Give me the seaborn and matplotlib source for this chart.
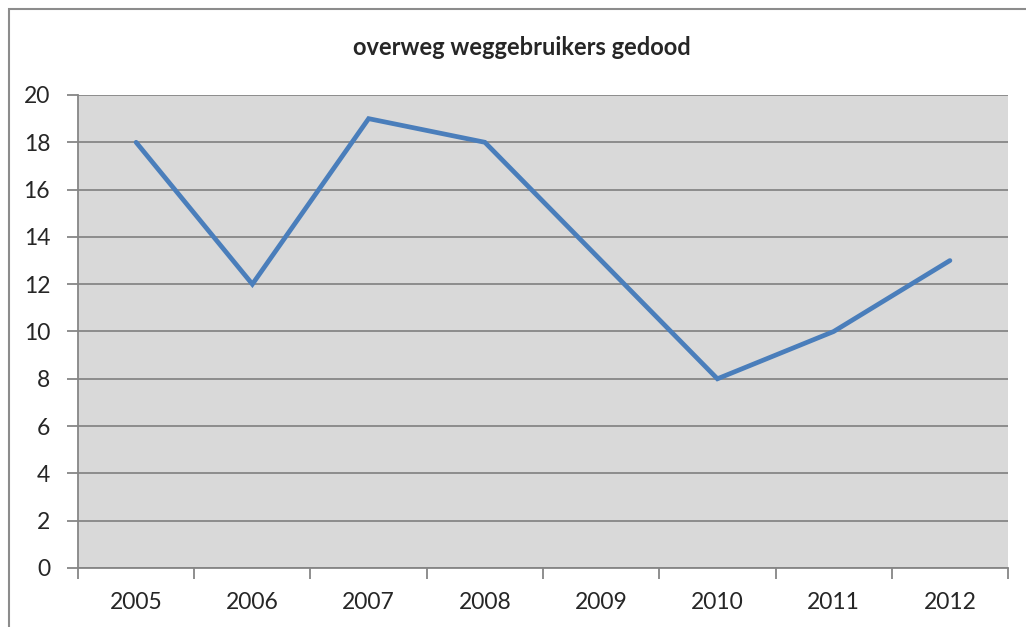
import matplotlib
matplotlib.use("Agg")
import matplotlib.pyplot as plt
from matplotlib.patches import Rectangle
from matplotlib.ticker import FixedLocator, NullFormatter
import pandas as pd
import seaborn as sns

# Data
years = ["2005", "2006", "2007", "2008", "2009", "2010", "2011", "2012"]
killed = [18, 12, 19, 18, 13, 8, 10, 13]
y_ticks = [0, 2, 4, 6, 8, 10, 12, 14, 16, 18, 20]

df = pd.DataFrame({"year": years, "killed": killed})
df["pos"] = range(len(df))

sns.set_theme(style="white")
plt.rcParams["font.family"] = ["Lato", "DejaVu Sans"]

fig = plt.figure(figsize=(10.26, 6.27), dpi=100)
ax = fig.add_axes([0.076, 0.0941, 0.9065, 0.7544])
ax.set_facecolor("#D9D9D9")

sns.lineplot(data=df, x="pos", y="killed", ax=ax, color="#4A7EBB",
             linewidth=3.4, solid_capstyle="round", solid_joinstyle="miter")

# y axis
ax.set_ylim(0, 20)
ax.set_yticks(y_ticks)
ax.set_yticklabels([str(v) for v in y_ticks], fontsize=16.5)
ax.grid(axis="y", color="#868686", linewidth=1.3)
ax.set_axisbelow(True)

# x axis: category boundaries as ticks, labels centred
n = len(years)
ax.set_xlim(-0.5, n - 0.5)
ax.xaxis.set_major_locator(FixedLocator([i - 0.5 for i in range(n + 1)]))
ax.xaxis.set_major_formatter(NullFormatter())
ax.xaxis.set_minor_locator(FixedLocator(list(df["pos"])))
ax.set_xticklabels(years, minor=True, fontsize=16.5)
ax.tick_params(axis="x", which="major", length=8, width=1.3, color="#868686", direction="out", bottom=True)
ax.tick_params(axis="x", which="minor", length=0, pad=17)
ax.tick_params(axis="y", length=8, width=1.3, color="#868686", direction="out", left=True, pad=12)

for side in ["top", "right"]:
    ax.spines[side].set_visible(False)
for side in ["left", "bottom"]:
    ax.spines[side].set_color("#868686")
    ax.spines[side].set_linewidth(1.3)

ax.set_xlabel("")
ax.set_ylabel("")

fig.text(0.509, 0.925, "overweg weggebruikers gedood", ha="center", va="center",
         fontsize=17, fontweight="bold")

# outer chart border
fig.patches.append(Rectangle((9 / 1026, -0.05), 1.1, 1 - 9 / 627 + 0.05,
                             transform=fig.transFigure, fill=False,
                             edgecolor="#8C8C8C", linewidth=1.5))

fig.savefig("out.png", dpi=100)
